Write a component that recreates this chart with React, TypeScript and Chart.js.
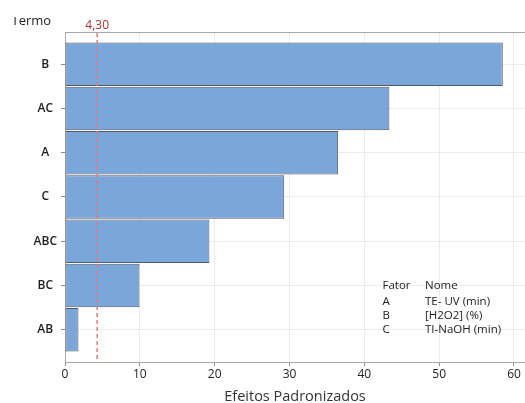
import React, { useEffect, useRef } from "react";
import { Chart, registerables } from "chart.js";
Chart.register(...registerables);

const terms = ["B", "AC", "A", "C", "ABC", "BC", "AB"];
const effects = [58.5, 43.35, 36.5, 29.3, 19.3, 9.95, 1.8];
const xTickValues = [0, 10, 20, 30, 40, 50, 60];
const refValue = 4.3;
const refLabel = "4,30";
const yAxisTitle = "Termo";
const xAxisTitle = "Efeitos Padronizados";
const legendHeader = ["Fator", "Nome"];
const factorCodes = ["A", "B", "C"];
const factorNames = ["TE- UV (min)", "[H2O2] (%)", "TI-NaOH (min)"];

const FONT = "'Open Sans', 'Noto Sans', sans-serif";

const overlay = {
  id: "overlay",
  afterDatasetsDraw(chart: any) {
    const { ctx, chartArea: a, scales } = chart;
    const x = scales.x;
    ctx.save();
    // top border
    ctx.strokeStyle = "#a8a8a8";
    ctx.lineWidth = 1;
    ctx.beginPath();
    ctx.moveTo(a.left, a.top + 0.5);
    ctx.lineTo(a.right, a.top + 0.5);
    ctx.stroke();
    // reference line
    const px = x.getPixelForValue(refValue);
    ctx.strokeStyle = "#e07c7c";
    ctx.lineWidth = 1.5;
    ctx.setLineDash([4, 3]);
    ctx.beginPath();
    ctx.moveTo(px, a.top + 1);
    ctx.lineTo(px, a.bottom);
    ctx.stroke();
    ctx.setLineDash([]);
    ctx.fillStyle = "#a83232";
    ctx.font = `12px ${FONT}`;
    ctx.textAlign = "center";
    ctx.textBaseline = "alphabetic";
    ctx.fillText(refLabel, px, 28.5);
    // y title (top cut)
    ctx.save();
    ctx.beginPath();
    ctx.rect(0, 17, 120, 14);
    ctx.clip();
    ctx.fillStyle = "#222";
    ctx.font = `13px ${FONT}`;
    ctx.textAlign = "left";
    ctx.fillText(yAxisTitle, 11.5, 25);
    ctx.restore();
    // legend table
    ctx.fillStyle = "#222";
    ctx.font = `11.5px ${FONT}`;
    ctx.textAlign = "left";
    const c1 = 382.5;
    const c2 = 425;
    ctx.fillText(legendHeader[0], c1, 289);
    ctx.fillText(legendHeader[1], c2, 289);
    const rows = [304.8, 319.2, 333.3];
    factorCodes.forEach((c, i) => {
      ctx.fillText(c, c1, rows[i]);
      ctx.fillText(factorNames[i], c2, rows[i]);
    });
    ctx.restore();
  },
};

export default function App() {
  const ref = useRef<HTMLCanvasElement>(null);
  useEffect(() => {
    const chart = new Chart(ref.current as HTMLCanvasElement, {
      type: "bar",
      data: {
        datasets: [
          {
            data: effects.map((v, i) => ({ x: v, y: i })) as any,
            backgroundColor: "#7ba6d9",
            borderColor: "#525a66",
            borderWidth: 1,
            borderSkipped: false,
            barPercentage: 0.98,
            categoryPercentage: 1,
          },
        ],
      },
      options: {
        indexAxis: "y",
        animation: false,
        responsive: false,
        events: [],
        layout: { padding: { top: 32, right: 0, left: 0, bottom: 0 } },
        plugins: { legend: { display: false }, tooltip: { enabled: false } },
        scales: {
          y: {
            type: "linear",
            reverse: true,
            offset: false,
            min: -0.73,
            max: 6.73,
            afterBuildTicks: (s: any) => {
              s.ticks = terms.map((_, i) => ({ value: i }));
            },
            afterFit: (s: any) => {
              s.width = 65;
            },
            ticks: {
              callback: (v: any) => terms[Math.round(Number(v))] ?? "",
              font: { family: FONT, size: 12, weight: "600" },
              color: "#1e1e1e",
              padding: 4,
              crossAlign: "center",
            },
            grid: { offset: false, color: "#ebebeb", tickColor: "#8a8a8a", tickLength: 4 },
            border: { color: "#a8a8a8" },
          },
          x: {
            type: "linear",
            min: 0,
            max: 61.47,
            afterBuildTicks: (s: any) => {
              s.ticks = xTickValues.map((v) => ({ value: v }));
            },
            afterFit: (s: any) => {
              s.height = 41;
            },
            ticks: {
              font: { family: FONT, size: 12 },
              color: "#222",
              padding: 1,
            },
            grid: { color: "#ebebeb", tickColor: "#8a8a8a", tickLength: 4 },
            border: { color: "#a8a8a8" },
            title: {
              display: true,
              text: xAxisTitle,
              font: { family: FONT, size: 14.5 },
              color: "#333",
              padding: { top: 0, bottom: -2.5 },
            },
          },
        },
      },
      plugins: [overlay],
    } as any);
    return () => chart.destroy();
  }, []);
  return (
    <div style={{ position: "absolute", left: 0, top: 0, width: 525, height: 403, background: "#fff" }}>
      <canvas ref={ref} width={525} height={403} />
    </div>
  );
}
